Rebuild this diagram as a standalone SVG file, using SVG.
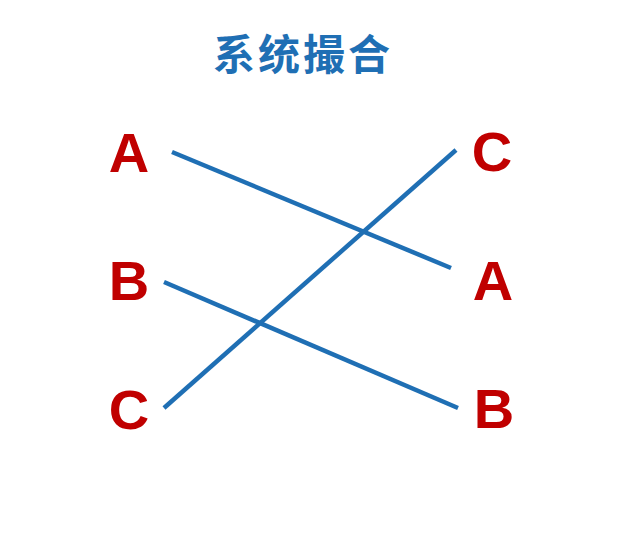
<svg xmlns="http://www.w3.org/2000/svg" width="624" height="538" viewBox="0 0 624 538">
<style>
.lbl{font-family:"Liberation Sans",Arial,sans-serif;font-weight:bold;font-size:56px;fill:#c00000;text-anchor:middle}
.title{font-family:"Noto Sans CJK SC",sans-serif;font-weight:bold;font-size:42px;fill:#1f6fb4;text-anchor:middle;letter-spacing:3px}
.conn line{stroke:#1f6fb4;stroke-width:4.5;stroke-linecap:butt}
</style>
<rect width="624" height="538" fill="#ffffff"/>
<text id="title" class="title" x="303" y="70">系统撮合</text>
<g id="left-A"><text class="lbl" x="129" y="172">A</text></g>
<g id="left-B"><text class="lbl" x="129" y="300">B</text></g>
<g id="left-C"><text class="lbl" x="129" y="429">C</text></g>
<g id="right-C"><text class="lbl" x="492" y="171">C</text></g>
<g id="right-A"><text class="lbl" x="493" y="300">A</text></g>
<g id="right-B"><text class="lbl" x="494" y="428">B</text></g>
<g id="connectors" class="conn">
<line x1="172" y1="152" x2="451" y2="268"/>
<line x1="164" y1="282" x2="458" y2="408"/>
<line x1="164" y1="408" x2="456" y2="150"/>
</g>
</svg>
